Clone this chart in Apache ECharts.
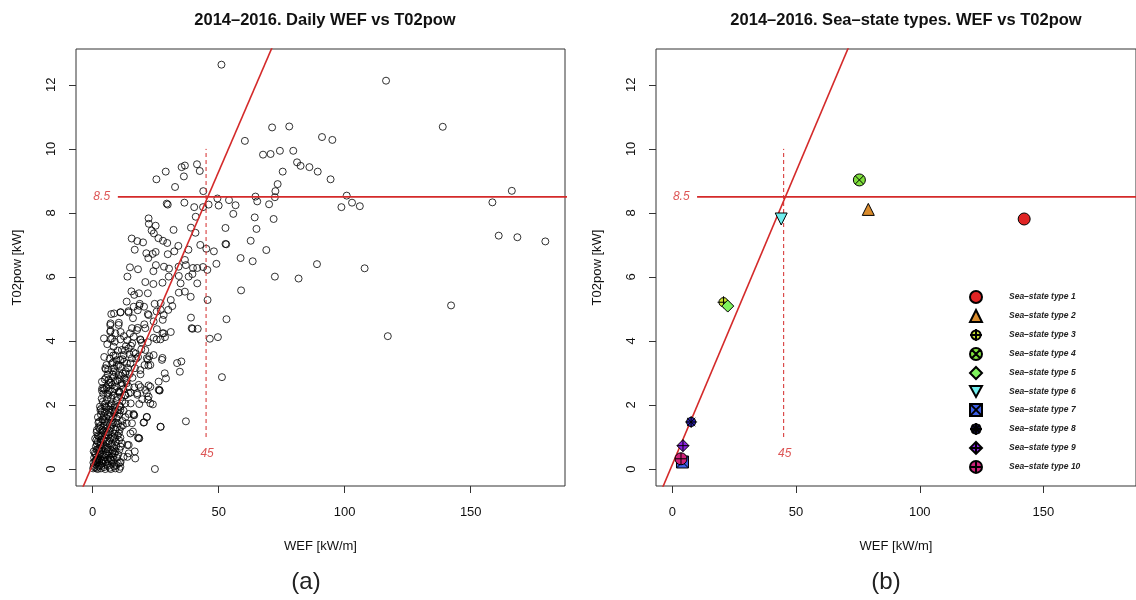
<!DOCTYPE html>
<html>
<head>
<meta charset="utf-8">
<script src="https://cdn.jsdelivr.net/npm/echarts@6/dist/echarts.min.js"></script>
<style>
  html, body { margin: 0; padding: 0; background: #fff; }
  #chart { width: 1136px; height: 600px; }
</style>
</head>
<body>
<div id="chart"></div>
<script>
// daily WEF [kW/m] vs T02pow
const dailyWefT02 = [
  [116.4,12.13],[138.9,10.69],[91.0,10.37],[95.1,10.28],[82.5,9.47],[86.0,9.43],[89.3,9.29],[94.4,9.05],
  [100.8,8.54],[98.7,8.18],[102.9,8.32],[106.0,8.21],[158.6,8.33],[166.3,8.69],[161.1,7.29],[168.5,7.24],
  [179.6,7.11],[89.0,6.40],[107.9,6.27],[142.2,5.11],[117.1,4.15],
  [51.1,12.63],[71.2,10.67],[78.0,10.70],[60.4,10.25],[67.6,9.82],[70.6,9.84],[74.3,9.94],[79.6,9.94],
  [81.1,9.58],[75.4,9.29],[73.4,8.90],[72.5,8.68],[72.3,8.49],[70.0,8.27],[64.6,8.51],[65.3,8.36],
  [64.3,7.86],[71.8,7.81],[65.0,7.50],[62.7,7.13],[68.9,6.84],[58.7,6.59],[63.5,6.49],[72.3,6.01],[81.7,5.95],
  [25.3,9.05],[29.0,9.29],[32.7,8.81],[35.3,9.43],[36.6,9.48],[36.2,9.14],[41.4,9.52],[42.5,9.31],
  [43.9,8.68],[49.5,8.45],[46.0,8.26],[50.0,8.23],[54.1,8.40],[56.7,8.24],[55.8,7.97],[43.8,8.18],
  [40.3,8.18],[36.4,8.32],[29.4,8.29],[29.8,8.26],[40.9,7.88],[22.2,7.83],[22.3,7.66],[25.0,7.60],
  [23.4,7.45],[24.3,7.36],[26.1,7.21],[27.9,7.13],[29.6,7.06],[15.5,7.20],[17.7,7.12],[20.0,7.08],
  [16.7,6.85],[21.3,6.74],[22.1,6.59],[23.8,6.72],[25.0,6.78],[29.8,6.71],[32.4,6.80],[34.0,6.97],
  [32.1,7.47],[39.0,7.54],[40.8,7.38],[42.7,7.00],[45.1,6.88],[48.1,6.80],[52.7,7.53],[52.7,7.03],
  [53.0,7.02],[38.0,6.85],[36.6,6.53],[37.0,6.37],[39.8,6.28],[41.5,6.28],[43.8,6.31],[45.5,6.22],
  [49.1,6.41],[25.1,6.37],[28.3,6.32],[30.3,6.26],[14.8,6.30],[18.0,6.24],[24.1,6.18],[34.1,6.32],
  [38.1,6.01],[13.8,6.01],[30.2,6.01],
  [34.2,6.03],[39.6,6.09],[38.9,5.38],[27.0,4.97],[39.3,4.40],
  [58.9,5.58],[45.6,5.28],[53.1,4.68],[46.5,4.07],[49.7,4.12],[51.3,2.87],[24.7,0.0],[37.0,1.49],
  [39.0,4.73],[39.6,4.38],[41.7,4.38],[33.5,3.31],[35.2,3.36],[34.6,3.04],[28.6,2.99],[29.1,2.83],
  [26.5,2.47],[27.0,1.32],[21.5,1.62],[20.4,1.46],[18.0,0.98],[16.7,0.55],[13.8,0.38],[10.6,0.0],
  [11.1,0.22],[7.4,0.28],[27.7,3.47],[19.0,2.56],[22.2,2.61],[17.7,2.32],[21.9,2.17],[23.9,2.02],
  [18.5,2.03],[16.5,1.68],[14.3,1.72],[22.5,3.52],[19.3,3.74],[17.3,3.45],[27.8,4.66],[24.6,5.16],
  [27.0,5.18],[31.0,5.28],[31.6,5.09],[30.0,4.97],[28.2,4.81],[25.4,4.92],[24.2,4.61],[20.5,4.52],
  [17.9,4.41],[31.0,4.28],[28.7,4.12],[25.4,4.05],[21.9,3.96],[19.0,4.03],[15.7,3.93],[13.2,3.84],
  [7.1,4.06],[7.1,4.32],[10.4,4.57],[7.1,4.55],[8.5,4.86],[11.1,4.90],[14.2,4.93],[17.9,4.96],
  [21.9,4.84],[4.5,4.08],[5.2,3.12],[3.8,2.52],[8.5,3.15],[11.8,3.43],[8.1,3.33],[14.6,3.59],
  [13.5,5.23],[16.5,5.44],[18.4,5.49],[21.9,5.49],[15.4,5.55],[20.9,5.84],[24.1,5.78],[27.7,5.82],
  [34.2,5.51],[36.6,5.54],[34.9,5.80],[41.5,5.80],[18.5,5.10],[20.4,5.07],[16.0,4.71],[14.8,4.24],
  [11.1,4.28],[27.7,4.24],[21.9,3.41],[20.6,3.25],[22.1,3.23],[14.7,2.97],[19.0,2.96],[13.5,2.68],
  [15.1,2.39],[10.7,2.41],[19.7,2.18],[21.5,2.37],[15.1,2.05],[16.2,1.72],[18.5,0.96],[13.8,0.75],
  [16.0,1.17],[13.5,1.43],[10.4,1.12],[11.1,0.70],[8.7,0.49],[1.9,0.28],[2.9,0.49],
  [7.4,4.84],[11.0,4.89],[14.3,4.89],[16.3,5.07],[18.7,5.16],[22.2,4.81],[7.0,4.50],[10.3,4.50],
  [7.0,4.29],[9.0,4.24],[15.6,4.40],[17.6,4.34],[20.9,4.40],[25.5,4.37],[28.2,4.24],[7.7,4.08],
  [11.0,4.05],[16.3,4.13],[18.9,4.05],[24.2,4.10],[26.9,4.05],[8.3,3.82],[11.6,3.72],[14.3,3.77],
  [16.3,3.64],[20.9,3.72],[24.2,3.56],[27.5,3.41],[5.0,3.15],[7.7,3.30],[9.6,3.25],[11.0,3.41],
  [12.3,3.56],[13.6,3.30],[15.6,3.46],[21.5,3.46],[22.9,3.25],[18.9,3.09],[8.3,3.04],[10.3,2.94],
  [13.0,2.99],[6.3,2.78],[3.7,2.73],[4.4,2.52],[7.7,2.63],[9.0,2.73],[11.6,2.68],[14.3,2.57],
  [7.7,2.42],[10.3,2.42],[6.3,2.31],[13.0,2.31],[18.3,2.63],[20.9,2.47],[22.9,2.57],[26.2,2.73],
  [17.6,2.37],[22.2,2.26],[26.2,2.47],
  [3.7,2.45],[14.3,2.36],[26.6,2.45],[22.9,2.05],[16.3,1.69],[21.5,1.63],[20.2,1.45],[26.9,1.32],
  [18.3,0.96],[14.3,0.75],[16.9,0.33],[11.0,0.07],[12.3,0.38],[14.3,0.49],[15.0,1.11],[15.6,1.43],
  [11.0,1.84],[13.0,2.05],[5.0,2.05],[3.1,1.84],[1.7,1.22],
  [0.2,0.02],[0.5,0.10],[0.8,0.05],[1.1,0.15],[1.5,0.03],[1.9,0.20],[2.3,0.08],[2.8,0.12],
  [3.3,0.02],[3.9,0.18],[4.5,0.06],[5.2,0.22],[6.0,0.10],[6.8,0.04],[7.7,0.16],[8.6,0.08],[9.5,0.12],
  [0.6,0.35],[1.2,0.45],[1.8,0.32],[2.5,0.55],[3.2,0.40],[4.0,0.58],[4.8,0.36],[5.6,0.50],
  [6.4,0.42],[7.3,0.60],[8.2,0.38],[9.1,0.55],[10.1,0.45],
  [1.3,0.70],[2.0,0.85],[2.7,0.65],[3.4,0.92],[4.2,0.75],[5.0,0.98],[5.8,0.68],[6.6,0.88],
  [7.5,0.78],[8.4,0.95],[9.4,0.72],[10.5,0.90],[11.6,0.80],
  [2.0,1.05],[2.8,1.25],[3.5,1.12],[4.3,1.35],[5.1,1.08],[5.9,1.28],[6.8,1.18],[7.7,1.38],
  [8.6,1.10],[9.6,1.30],[10.7,1.22],[12.0,1.36],
  [2.6,1.48],[3.3,1.70],[4.1,1.55],[4.9,1.78],[5.8,1.45],[6.7,1.65],[7.6,1.52],[8.5,1.75],
  [9.5,1.58],[10.6,1.72],[11.8,1.50],[13.0,1.62],
  [3.3,1.88],[4.0,2.10],[4.8,1.95],[5.7,2.18],[6.6,1.85],[7.5,2.05],[8.5,1.92],[9.5,2.15],
  [10.6,1.98],[11.8,2.12],
  [4.2,2.35],[5.5,2.55],[6.8,2.45],[8.1,2.30],[9.4,2.58],[10.8,2.38],[12.2,2.50],
  [4.8,2.80],[6.0,2.95],[7.2,2.70],[8.4,2.88],[9.8,2.76],[11.2,2.92],[12.6,2.82],
  [5.5,3.25],[6.8,3.45],[8.2,3.55],[9.5,3.40],[11.0,3.20],[12.5,3.35],[14.0,3.15],
  [5.8,3.90],[8.8,3.98],[10.0,3.70],[12.4,4.15],[13.8,4.02],[15.2,3.85],[17.0,3.60],[19.5,3.95],
  [1.0,0.25],[1.6,0.60],[2.2,0.30],[3.0,0.75],[3.6,0.25],[4.4,0.90],[5.0,0.45],[5.5,1.15],
  [6.2,0.80],[6.9,1.40],[7.1,0.30],[8.0,1.00],[8.9,1.45],[9.2,0.85],[2.4,1.30],[3.8,1.55],
  [4.6,1.20],[5.3,1.60],[6.3,1.95],[7.0,1.75],[7.9,1.85],[9.0,2.00],[10.2,1.85],[11.3,2.25],
  [0.4,0.55],[1.5,0.90],[3.0,1.00],[6.0,0.30],[8.0,0.55],[10.8,0.20],
  [0.3,0.20],[1.3,0.28],[2.0,0.00],[2.6,0.25],[3.6,0.10],[4.2,0.28],[5.0,0.00],[5.7,0.15],
  [6.4,0.25],[7.2,0.00],[8.1,0.25],[9.0,0.02],[10.0,0.18],
  [0.9,0.50],[1.6,0.38],[2.1,0.62],[2.9,0.33],[3.6,0.66],[4.4,0.45],[5.2,0.62],[6.0,0.55],
  [6.9,0.35],[7.8,0.48],[8.6,0.65],[9.6,0.35],[10.6,0.60],
  [1.0,0.95],[1.7,0.78],[2.4,1.02],[3.1,0.82],[3.8,1.05],[4.6,0.72],[5.4,0.85],[6.2,1.05],
  [7.0,0.95],[7.9,0.72],[8.9,0.98],[9.9,1.05],[11.0,0.98],
  [1.6,1.15],[2.3,1.45],[3.1,1.35],[3.9,1.22],[4.7,1.48],[5.5,1.35],[6.3,1.15],[7.2,1.28],
  [8.1,1.45],[9.1,1.22],[10.1,1.42],[11.2,1.32],
  [2.1,1.62],[2.9,1.95],[3.7,1.80],[4.5,1.65],[5.3,1.92],[6.1,1.70],[7.1,1.98],[8.0,1.62],
  [9.0,1.80],[10.0,1.65],[11.0,1.95],[12.3,1.82],
  [3.6,2.20],[4.7,2.48],[5.9,2.35],[6.2,2.62],[7.3,2.20],[8.7,2.50],[9.9,2.25],[11.4,2.62],
  [12.8,2.30],[5.3,2.85],[6.6,2.70],[7.9,2.95],[9.2,3.00],[10.6,2.80],[12.0,2.98],[13.5,2.75],
  [15.8,2.85],[16.5,2.55],
  [6.2,3.10],[7.4,3.65],[9.0,3.55],[10.3,3.25],[12.8,3.70],[13.2,3.05],[15.0,3.30],[16.8,3.15],
  [18.0,3.50],[4.6,3.50]
];

// sea-state type centroids, panel (b)
const seaStateNames = ['Sea–state type 1','Sea–state type 2','Sea–state type 3','Sea–state type 4','Sea–state type 5',
  'Sea–state type 6','Sea–state type 7','Sea–state type 8','Sea–state type 9','Sea–state type 10'];
const seaStateWef = [142.2, 79.2, 20.7, 75.6, 22.4, 44.0, 4.1, 7.6, 4.3, 3.5];
const seaStateT02 = [7.81, 8.11, 5.21, 9.03, 5.09, 7.81, 0.22, 1.47, 0.73, 0.32];

// reference lines
const wefLimit = 45;          // dashed vertical
const wefLimitSpan = [1.0, 10.0];
const t02Limit = 8.5;         // horizontal
const t02LimitStart = 10;
const fitLine = [0.14, 0.183]; // intercept, slope

const xTicks = [0, 50, 100, 150];
const yTicks = [0, 2, 4, 6, 8, 10, 12];

const X_MIN = -6.6, X_MAX = 187.4, Y_MIN = -0.53, Y_MAX = 13.12;
const RED = '#d42a2a';
const FONT = '"Liberation Sans", Arial, Helvetica, sans-serif';

const seaStateColors = ['#e02424', '#d98b2c', '#c9e530', '#7fe03c', '#7ff25c',
  '#70eeee', '#3d5fe6', '#2a20b2', '#8b22e0', '#cf2279'];
const circ = 'M-10,0 A10,10 0 1,0 10,0 A10,10 0 1,0 -10,0 Z';
const seaStateSymbols = [
  'circle',
  'triangle',
  'path://' + circ + ' M-13,0 L13,0 M0,-13 L0,13',
  'path://' + circ + ' M-7,-7 L7,7 M-7,7 L7,-7',
  'diamond',
  'path://M-11,-9 L11,-9 L0,11 Z',
  'path://M-9,-9 L9,-9 L9,9 L-9,9 Z M-9,-9 L9,9 M-9,9 L9,-9',
  'path://' + circ + ' M-13,0 L13,0 M0,-13 L0,13 M-9,-9 L9,9 M-9,9 L9,-9',
  'path://M0,-12 L12,0 L0,12 L-12,0 Z M-12,0 L12,0 M0,-12 L0,12',
  'path://' + circ + ' M-10,0 L10,0 M0,-10 L0,10'
];

function xAxisFor(gi) {
  return {
    gridIndex: gi, type: 'value', min: X_MIN, max: X_MAX,
    name: 'WEF [kW/m]', nameLocation: 'middle', nameGap: 54,
    nameTextStyle: { fontFamily: FONT, fontSize: 13, color: '#111' },
    axisLine: { show: false, onZero: false },
    splitLine: { show: false },
    axisTick: { show: true, inside: false, length: 7, customValues: xTicks, lineStyle: { color: '#333' } },
    axisLabel: { customValues: xTicks, margin: 20, fontFamily: FONT, fontSize: 13, color: '#111' }
  };
}
function yAxisFor(gi) {
  return {
    gridIndex: gi, type: 'value', min: Y_MIN, max: Y_MAX,
    name: 'T02pow [kW]', nameLocation: 'middle', nameGap: 52, nameRotate: 90,
    nameTextStyle: { fontFamily: FONT, fontSize: 13, color: '#111' },
    axisLine: { show: false, onZero: false },
    splitLine: { show: false },
    axisTick: { show: true, inside: false, length: 7, customValues: yTicks, lineStyle: { color: '#333' } },
    axisLabel: { customValues: yTicks, rotate: 90, margin: 18, fontFamily: FONT, fontSize: 13, color: '#111' }
  };
}

function refSeries(gi) {
  const fitAt = function (x) { return fitLine[0] + fitLine[1] * x; };
  return [
    { type: 'line', xAxisIndex: gi, yAxisIndex: gi, symbol: 'none', silent: true, z: 5,
      data: [[t02LimitStart, t02Limit], [X_MAX + 10, t02Limit]],
      lineStyle: { color: RED, width: 1.6 } },
    { type: 'line', xAxisIndex: gi, yAxisIndex: gi, symbol: 'none', silent: true, z: 5,
      data: [[-10, fitAt(-10)], [80, fitAt(80)]],
      lineStyle: { color: RED, width: 1.6 } },
    { type: 'line', xAxisIndex: gi, yAxisIndex: gi, symbol: 'none', silent: true, z: 5,
      data: [[wefLimit, wefLimitSpan[0]], [wefLimit, wefLimitSpan[1]]],
      lineStyle: { color: RED, width: 1, type: [4, 3] } },
    { type: 'scatter', xAxisIndex: gi, yAxisIndex: gi, symbolSize: 0, silent: true, z: 5,
      data: [[3.6, t02Limit, String(t02Limit)], [wefLimit + 0.4, 0.47, String(wefLimit)]],
      label: { show: true, position: 'inside', formatter: function (p) { return p.value[2]; },
        fontFamily: FONT, fontStyle: 'italic', fontSize: 12, color: RED } }
  ];
}

const chart = echarts.init(document.getElementById('chart'));

const seaSeries = seaStateNames.map(function (name, i) {
  return {
    name: name, type: 'scatter', xAxisIndex: 1, yAxisIndex: 1, z: 6,
    symbol: seaStateSymbols[i], symbolSize: 12,
    itemStyle: { color: seaStateColors[i], borderColor: '#000', borderWidth: 1, opacity: 1 },
    data: [[seaStateWef[i], seaStateT02[i]]]
  };
});

chart.setOption({
  animation: false,
  backgroundColor: '#fff',
  title: [
    { text: '2014–2016. Daily WEF vs T02pow', left: 320, top: 7, textAlign: 'center',
      textStyle: { fontFamily: FONT, fontWeight: 'bold', fontSize: 16.5, color: '#111' } },
    { text: '2014–2016. Sea–state types. WEF vs T02pow', left: 901, top: 7, textAlign: 'center',
      textStyle: { fontFamily: FONT, fontWeight: 'bold', fontSize: 16.5, color: '#111' } },
    { text: '(a)', left: 301, top: 565, textAlign: 'center',
      textStyle: { fontFamily: FONT, fontWeight: 'normal', fontSize: 24, color: '#222' } },
    { text: '(b)', left: 881, top: 565, textAlign: 'center',
      textStyle: { fontFamily: FONT, fontWeight: 'normal', fontSize: 24, color: '#222' } }
  ],
  legend: {
    orient: 'vertical', left: 969, top: 290, padding: 0, itemWidth: 12, itemHeight: 12, itemGap: 5,
    selectedMode: false,
    data: seaStateNames,
    textStyle: { fontFamily: FONT, fontStyle: 'italic', fontWeight: 'bold', fontSize: 8.5, color: '#222',
      padding: [0, 0, 0, 22] }
  },
  grid: [
    { left: 76, top: 49, width: 489, height: 437, show: true, borderColor: '#333', borderWidth: 1,
      backgroundColor: 'transparent' },
    { left: 656, top: 49, width: 489, height: 437, show: true, borderColor: '#333', borderWidth: 1,
      backgroundColor: 'transparent' }
  ],
  xAxis: [xAxisFor(0), xAxisFor(1)],
  yAxis: [yAxisFor(0), yAxisFor(1)],
  series: [
    { type: 'scatter', xAxisIndex: 0, yAxisIndex: 0, symbol: 'circle', symbolSize: 7, z: 3,
      itemStyle: { color: 'rgba(0,0,0,0)', borderColor: '#000', borderWidth: 1 },
      data: dailyWefT02 }
  ].concat(refSeries(0), refSeries(1), seaSeries)
});
</script>
</body>
</html>
